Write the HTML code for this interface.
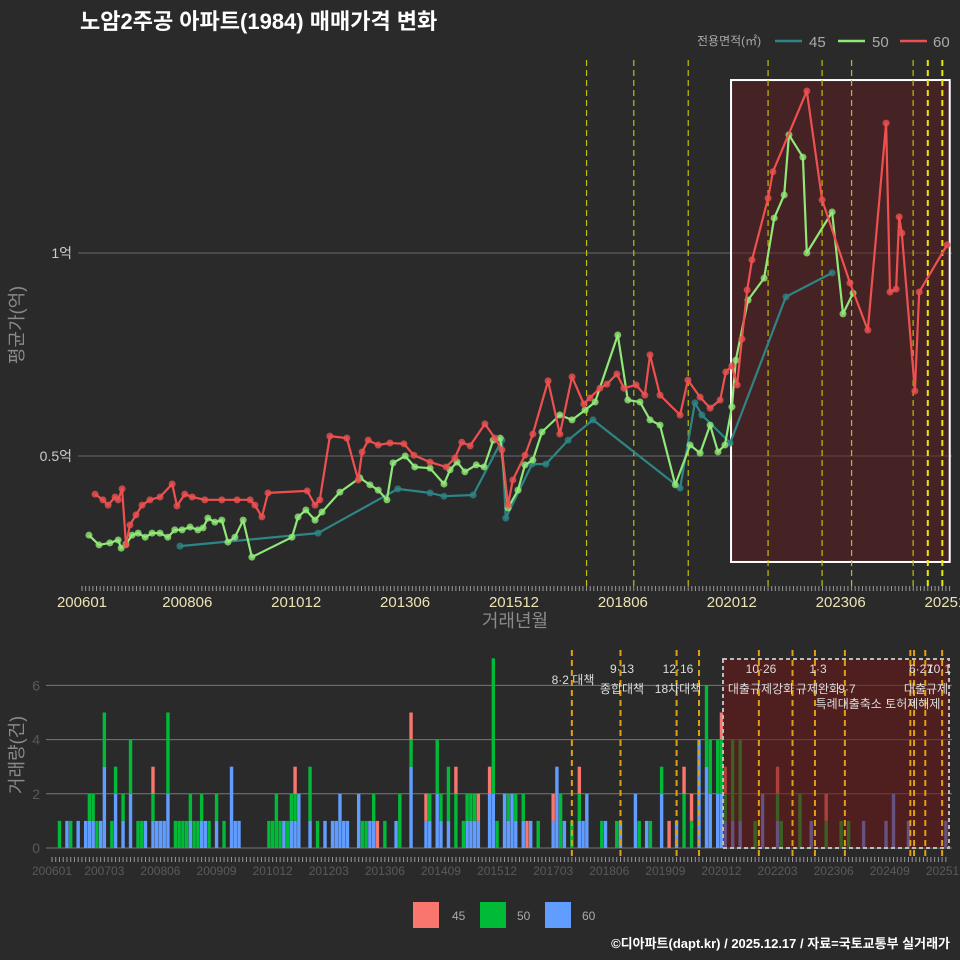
<!DOCTYPE html>
<html><head><meta charset="utf-8">
<style>
html,body{margin:0;padding:0;background:#2a2a2a;}
svg{display:block;font-family:"Liberation Sans","Noto Sans CJK KR",sans-serif;}
</style></head>
<body>
<svg id="chart" width="960" height="960" viewBox="0 0 960 960" xmlns="http://www.w3.org/2000/svg">
<rect x="0" y="0" width="960" height="960" fill="#2a2a2a"/>
<text x="80" y="29" fill="#ffffff" font-size="22" font-weight="bold" font-family="Liberation Sans, Noto Sans CJK KR, sans-serif">노암2주공 아파트(1984) 매매가격 변화</text>
<g>
<text x="697" y="45" fill="#aaaaaa" font-size="12">전용면적(㎡)</text>
<line x1="775" y1="41" x2="802" y2="41" stroke="#2e8585" stroke-width="2.5"/>
<text x="809" y="47" fill="#aaaaaa" font-size="15">45</text>
<line x1="838" y1="41" x2="865" y2="41" stroke="#90e878" stroke-width="2.5"/>
<text x="872" y="47" fill="#aaaaaa" font-size="15">50</text>
<line x1="900" y1="41" x2="927" y2="41" stroke="#ee5050" stroke-width="2.5"/>
<text x="933" y="47" fill="#aaaaaa" font-size="15">60</text>
</g>
<g id="topchart"></g>
<g id="bottomchart"></g>
<g>
<rect x="413" y="902" width="26" height="26" fill="#f8766d"/>
<text x="452" y="920" fill="#aaaaaa" font-size="12">45</text>
<rect x="480" y="902" width="26" height="26" fill="#00ba38"/>
<text x="517" y="920" fill="#aaaaaa" font-size="12">50</text>
<rect x="545" y="902" width="26" height="26" fill="#619cff"/>
<text x="582" y="920" fill="#aaaaaa" font-size="12">60</text>
</g>
<text x="950" y="948" text-anchor="end" fill="#ffffff" font-size="13" font-weight="bold">©디아파트(dapt.kr) / 2025.12.17 / 자료=국토교통부 실거래가</text>
</svg>
<script>
const t60 = [0.30,0.48,0.60,0.76,0.83,0.92,1.01,1.10,1.24,1.38,1.56,1.79,2.07,2.18,2.36,2.53,2.82,3.21,3.56,3.86,3.97,4.13,4.27,5.17,5.35,5.46,5.69,6.08,6.34,6.43,6.57,6.80,7.07,7.39,7.62,7.99,8.36,8.56,8.72,8.91,9.25,9.48,9.64,9.78,9.89,10.17,10.35,10.70,10.97,11.25,11.52,11.66,11.89,12.05,12.28,12.44,12.72,12.92,13.04,13.27,13.73,13.91,14.19,14.42,14.65,14.78,14.92,15.04,15.15,15.27,15.38,15.75,15.86,16.64,16.99,17.63,18.04,18.46,18.55,18.69,18.76,18.82,19.12,19.22,19.86];
const v60 = [0.406,0.392,0.379,0.399,0.392,0.419,0.281,0.330,0.355,0.379,0.392,0.399,0.431,0.377,0.406,0.399,0.392,0.392,0.392,0.392,0.379,0.350,0.409,0.414,0.379,0.392,0.549,0.544,0.441,0.510,0.539,0.527,0.532,0.530,0.502,0.485,0.473,0.495,0.534,0.525,0.579,0.544,0.515,0.379,0.441,0.502,0.554,0.685,0.554,0.695,0.628,0.643,0.667,0.677,0.702,0.667,0.675,0.650,0.749,0.650,0.601,0.687,0.645,0.618,0.638,0.707,0.722,0.675,0.788,0.909,0.983,1.135,1.200,1.399,1.131,0.926,0.810,1.320,0.904,0.911,1.089,1.049,0.660,0.904,1.020];
const t50 = [0.16,0.39,0.64,0.83,0.90,1.01,1.15,1.29,1.45,1.61,1.79,1.97,2.13,2.30,2.48,2.66,2.78,2.89,3.05,3.21,3.35,3.51,3.70,3.90,4.82,4.96,5.14,5.35,5.51,5.92,6.38,6.61,6.80,7.00,7.14,7.42,7.64,7.99,8.31,8.45,8.61,8.79,9.05,9.23,9.44,9.60,9.78,10.01,10.17,10.35,10.56,10.97,11.25,11.55,11.78,12.30,12.53,12.81,13.04,13.27,13.62,13.96,14.19,14.42,14.60,14.76,14.92,15.01,15.29,15.66,15.89,16.12,16.23,16.55,16.64,17.22,17.47,17.70];
const v50 = [0.305,0.281,0.286,0.293,0.273,0.283,0.305,0.310,0.300,0.310,0.310,0.300,0.318,0.318,0.325,0.318,0.323,0.347,0.337,0.342,0.288,0.300,0.342,0.251,0.300,0.350,0.367,0.342,0.362,0.411,0.446,0.429,0.416,0.392,0.483,0.500,0.473,0.470,0.431,0.466,0.485,0.461,0.478,0.473,0.539,0.544,0.372,0.416,0.478,0.490,0.559,0.601,0.589,0.613,0.633,0.798,0.638,0.633,0.589,0.576,0.429,0.527,0.507,0.576,0.510,0.527,0.621,0.736,0.884,0.938,1.086,1.143,1.291,1.236,1.000,1.101,0.850,0.901];
const t45 = [2.25,5.42,7.25,7.99,8.31,8.98,9.64,9.73,10.33,10.65,11.16,11.73,13.73,14.07,14.23,14.88,16.16,17.22];
const v45 = [0.278,0.310,0.419,0.409,0.401,0.404,0.539,0.347,0.480,0.480,0.539,0.589,0.421,0.631,0.601,0.532,0.892,0.951];
const topTickT = [0,2.417,4.917,7.417,9.917,12.417,14.917,17.417,19.917];
const topTickLabels = ["200601","200806","201012","201306","201512","201806","202012","202306","202512"];
const yTickVals = [0.5,1.0];
const yTickLabels = ["0.5억","1억"];
const policyTop = [11.583,12.667,13.917,15.75,16.99,17.667,19.08,19.417,19.75];
const barMonth = [2,4,5,7,9,10,11,12,13,14,16,17,19,21,23,24,25,27,28,29,30,31,33,34,35,36,37,38,39,40,41,42,44,46,48,49,50,58,59,60,61,62,63,64,65,66,69,71,73,75,76,77,78,79,82,83,84,85,86,87,89,92,93,96,100,101,103,104,106,108,110,111,112,113,114,117,118,119,121,122,123,124,126,127,128,130,134,135,136,137,139,141,142,143,147,148,151,152,156,157,159,160,163,165,167,169,171,173,175,176,178,179,180,182,184,188,190,194,195,200,203,207,211,213,217,223,225,229,239];
const cnt45 = [0,0,0,0,0,0,0,0,0,0,0,0,0,0,0,0,0,1,0,0,0,0,0,0,0,0,0,0,0,0,0,0,0,0,0,0,0,0,0,0,0,0,0,0,1,0,0,0,0,0,0,0,0,0,0,0,0,0,0,1,0,0,0,1,1,0,0,0,0,1,0,0,0,0,1,1,0,0,0,0,0,0,0,1,0,0,1,0,0,0,0,1,0,0,0,0,0,0,0,0,0,0,0,1,0,1,1,0,0,0,0,1,1,0,0,0,0,1,0,0,0,1,0,0,0,0,0,0,0];
const cnt50 = [1,0,1,0,0,1,1,1,0,2,1,1,1,2,1,1,0,1,0,0,0,3,1,1,1,1,1,1,1,1,0,1,1,1,0,0,0,1,1,2,1,0,1,1,1,0,2,1,0,0,0,0,0,0,0,1,1,0,1,0,1,0,2,1,0,1,2,1,2,2,1,1,1,1,0,0,5,1,0,1,0,1,1,0,0,1,0,0,2,0,1,1,0,0,1,0,1,0,0,1,0,1,1,0,0,2,1,0,3,2,2,2,1,3,3,1,0,1,1,2,0,1,1,1,0,0,0,0,0];
const cnt60 = [0,1,0,1,1,1,1,0,1,3,0,2,1,2,0,0,1,1,1,1,1,2,0,0,0,0,1,0,0,1,1,0,1,0,3,1,1,0,0,0,0,1,0,1,1,2,1,0,1,1,1,2,1,1,2,0,0,1,1,0,0,1,0,3,1,1,2,1,1,0,0,1,1,1,1,2,2,0,2,1,2,1,1,0,1,0,1,3,0,1,0,1,1,2,0,1,0,1,2,0,1,0,2,0,1,0,0,4,3,2,2,2,1,1,1,0,2,1,0,0,1,0,0,0,1,1,2,1,1];
const botTickM = [0,14,29,44,59,74,89,104,119,134,149,164,179,194,209,224,239];
const botTickLabels = ["200601","200703","200806","200909","201012","201203","201306","201409","201512","201703","201806","201909","202012","202203","202306","202409","202512"];
const countTicks = [0,2,4,6];
const policyBot = [139,152,167,173,189,198,204,212,229.5,230.5,233.5,238];

const NS = "http://www.w3.org/2000/svg";
function mk(parent, tag, attrs, text){
  const e = document.createElementNS(NS, tag);
  for (const k in attrs) e.setAttribute(k, attrs[k]);
  if (text !== undefined) e.textContent = text;
  parent.appendChild(e);
  return e;
}
const topG = document.getElementById('topchart');
const xT = t => 82 + t * 43.56;
const yT = v => 456 - (v - 0.5) * 406;

yTickVals.forEach((v, i) => {
  const g = mk(topG, 'line', {x1: 78, x2: 952, y1: yT(v), y2: yT(v), stroke: '#6a6a6a', 'stroke-width': 1});
  
  
  const l = mk(topG, 'text', {x: 72, y: yT(v) + 5, 'text-anchor': 'end', fill: '#cccccc', 'font-size': 14}, yTickLabels[i]);
  
  
});
const hb = mk(topG, 'rect', {x: xT(14.9), y: yT(1.426), width: xT(19.92) - xT(14.9), height: yT(0.239) - yT(1.426), fill: 'rgba(95,25,30,0.5)', stroke: '#ffffff', 'stroke-width': 2});


policyTop.forEach((t, i) => {
  const bright = i >= 7;
  const l = mk(topG, 'line', {x1: xT(t), x2: xT(t), y1: 60, y2: 586, stroke: bright ? '#e8e800' : '#c0c000', 'stroke-width': bright ? 2 : 1.2, 'stroke-dasharray': '6,4'});
  
  
});
function series(ts, vs, color, name){
  let d = '';
  ts.forEach((t, i) => { d += (i ? 'L' : 'M') + xT(t).toFixed(1) + ',' + yT(vs[i]).toFixed(1); });
  const p = mk(topG, 'path', {d: d, fill: 'none', stroke: color, 'stroke-width': 2.2, 'stroke-linejoin': 'round'});
  
  
  ts.forEach((t, i) => {
    const c = mk(topG, 'circle', {cx: xT(t), cy: yT(vs[i]), r: 3.5, fill: color, 'fill-opacity': 0.8});
    
    
  });
}
series(t45, v45, '#2e8585', '45');
series(t50, v50, '#90e878', '50');
series(t60, v60, '#ee5050', '60');
for (let m = 0; m <= 239; m++) {
  const x = xT(m / 12);
  const tk = mk(topG, 'line', {x1: x, x2: x, y1: 586, y2: 591, stroke: '#999999', 'stroke-width': 1});
  
  
}
topTickT.forEach((t, i) => {
  const l = mk(topG, 'text', {x: xT(t), y: 607, 'text-anchor': 'middle', fill: '#ece3b4', 'font-size': 15}, topTickLabels[i]);
  
  
});
const xt = mk(topG, 'text', {x: 515, y: 627, 'text-anchor': 'middle', fill: '#8a8a8a', 'font-size': 18}, '거래년월');


const yt = mk(topG, 'text', {x: 0, y: 0, transform: 'translate(23,325) rotate(-90)', 'text-anchor': 'middle', fill: '#8a8a8a', 'font-size': 18}, '평균가(억)');



const botG = document.getElementById('bottomchart');
const xB = m => 52 + m * 3.74;
const yB = c => 848 - c * 27.1;
countTicks.forEach(c => {
  const g = mk(botG, 'line', {x1: 46, x2: 952, y1: yB(c), y2: yB(c), stroke: '#777777', 'stroke-width': 1});
  
  
  const l = mk(botG, 'text', {x: 40, y: yB(c) + 5, 'text-anchor': 'end', fill: '#5a5a5a', 'font-size': 14}, String(c));
  
  
});
barMonth.forEach((m, i) => {
  const x = xB(m) - 1.7;
  let base = 0;
  [[cnt60[i], '#619cff', '60'], [cnt50[i], '#00ba38', '50'], [cnt45[i], '#f8766d', '45']].forEach(s => {
    if (s[0] > 0) {
      const r = mk(botG, 'rect', {x: x, y: yB(base + s[0]), width: 3.4, height: s[0] * 27.1, fill: s[1]});
      
      
      base += s[0];
    }
  });
});
const bb = mk(botG, 'rect', {x: 723, y: 659, width: 226, height: 189, fill: 'rgba(110,20,20,0.55)', stroke: '#bbbbbb', 'stroke-width': 2, 'stroke-dasharray': '4,3'});


policyBot.forEach(m => {
  const l = mk(botG, 'line', {x1: xB(m), x2: xB(m), y1: 650, y2: 858, stroke: '#e0a010', 'stroke-width': 2, 'stroke-dasharray': '6,4'});
  
  
});
const notes = [[573,684,'8·2 대책'],[622,673,'9·13'],[622,693,'종합대책'],[678,673,'12·16'],[678,693,'18차대책'],[761,673,'10·26'],[761,693,'대출규제강화'],[818,673,'1·3'],[818,693,'규제완화'],[847,693,'9·7'],[878,708,'특례대출축소 토허제해제'],[921,673,'6·27'],[939,673,'10·1'],[926,693,'대출규제']];
notes.forEach(n => {
  const l = mk(botG, 'text', {x: n[0], y: n[1], 'text-anchor': 'middle', fill: '#dddddd', 'font-size': 12}, n[2]);
  
  
});
for (let m = 0; m <= 239; m++) {
  const tk = mk(botG, 'line', {x1: xB(m), x2: xB(m), y1: 857, y2: 862, stroke: '#999999', 'stroke-width': 1});
  
  
}
botTickM.forEach((m, i) => {
  const l = mk(botG, 'text', {x: xB(m), y: 875, 'text-anchor': 'middle', fill: '#5a5a5a', 'font-size': 12}, botTickLabels[i]);
  
  
});
const yt2 = mk(botG, 'text', {x: 0, y: 0, transform: 'translate(23,755) rotate(-90)', 'text-anchor': 'middle', fill: '#8a8a8a', 'font-size': 18}, '거래량(건)');


</script>
</body></html>
